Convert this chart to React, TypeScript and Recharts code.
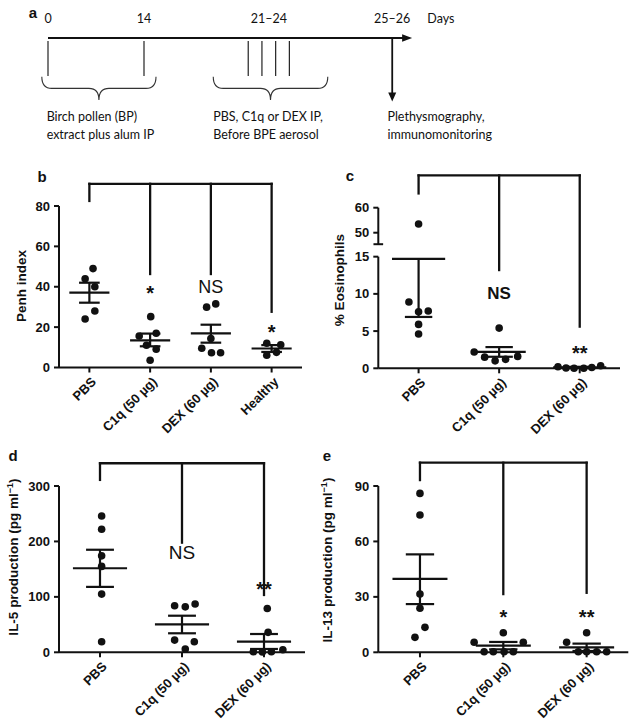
import React from 'react';
import {
  ScatterChart,
  Scatter,
  XAxis,
  YAxis,
  ReferenceLine,
  ReferenceDot,
  ReferenceArea,
} from 'recharts';

const FONT = "'Liberation Sans', Arial, Helvetica, sans-serif";
const TIMELINE_FONT = "Lato, 'Liberation Sans', Arial, sans-serif";
const INK = '#111111';

// ---- a: protocol timeline (schematic, not to scale)
const dayLabels = ['0', '14', '21–24', '25–26', 'Days'];
const dayLabelPos = [0, 14, 32.2, 50.2, 57.3];
const sensitizationPos = [0, 14];
const treatmentPos = [29.2, 31.2, 33.2, 35.2];
const readoutPos = 50.2;
const braceSpans = [
  [-0.9, 15.75],
  [24.1, 40.8],
];
const stepLines = [
  ['Birch pollen (BP)', 'extract plus alum IP'],
  ['PBS, C1q or DEX IP,', 'Before BPE aerosol'],
  ['Plethysmography,', 'immunomonitoring'],
];
const stepPos = [-0.2, 24.1, 49.5];

// ---- b: Penh index
const groupsB = ['PBS', 'C1q (50 µg)', 'DEX (60 µg)', 'Healthy'];
const penhValues = [
  [49, 44, 40, 28, 24],
  [25.2, 15.6, 17, 11, 9.1, 3.6],
  [29.9, 31.5, 14.4, 9.5, 7.3, 7.3],
  [12, 11.3, 6.1, 7.5],
];
const penhSpread = [
  [0.06, -0.07, 0.09, 0.09, -0.07],
  [0.01, -0.18, 0.1, -0.06, 0.1, 0],
  [-0.07, 0.08, 0, -0.15, 0.01, 0.16],
  [-0.08, 0.15, -0.08, 0.08],
];
const penhMean = [37.1, 13.4, 16.9, 9.4];
const penhSemHi = [42, 16.8, 21.2, 11.1];
const penhSemLo = [32.1, 10.5, 12.3, 7.7];
const penhTicks = [0, 20, 40, 60, 80];
const penhBracketTop = 91;
const penhBracketFeet = [82.5, 46.3, 46.3, 27.6];
const penhMarks = ['', '*', 'NS', '*'];
const penhMarkAt = [0, 39.4, 40, 20.2];

// ---- c: % eosinophils (broken axis 15 / 45)
const groupsC = ['PBS', 'C1q (50 µg)', 'DEX (60 µg)'];
const eosValues = [
  [53.5, 8.9, 7.6, 7.7, 5.9, 4.6],
  [5.4, 2.2, 1.5, 1.0, 1.2, 1.6],
  [0.2, 0.05, 0, 0, 0.1, 0.35],
];
const eosSpread = [
  [0, -0.12, 0, 0.12, 0, 0],
  [0, -0.31, -0.18, -0.05, 0.08, 0.23],
  [-0.27, -0.17, -0.07, 0.05, 0.15, 0.26],
];
const eosMean = [14.7, 2.2, 0.12];
const eosSemHi = [null, 2.85, 0.2];
const eosSemLo = [6.9, 1.55, 0.05];
const eosTicks = [0, 5, 10, 15, 50, 60];
const eosAxisParts = [
  [0, 15],
  [45.4, 60],
];
const eosBracketTop = 72.9;
const eosBracketFeet = [65.7, 13.2, 5.6];
const eosMarks = ['', 'NS', '**'];
const eosMarkAt = [0, 10.2, 2.7];

// lower segment 0-15 linear, upper segment compressed
function eosAxis(v: number) {
  return v <= 15 ? v : 18.22 + (v - 50) * 0.336;
}

// ---- d: IL-5
const il5Values = [
  [246, 222, 174, 155, 105, 19],
  [84, 82, 87, 22, 19, 6],
  [79, 36, 1, 0.5, 1, 4.5],
];
const il5Spread = [
  [0.02, 0.02, 0.02, 0.02, 0.02, 0.02],
  [-0.09, 0.04, 0.16, -0.09, 0.15, 0.04],
  [0.04, 0.05, -0.13, -0.02, 0.09, 0.23],
];
const il5Mean = [151.6, 50.5, 19.2];
const il5SemHi = [185, 66, 33];
const il5SemLo = [118, 34.3, 6];
const il5Ticks = [0, 100, 200, 300];
const il5BracketTop = 341;
const il5BracketFeet = [311, 197.8, 103.4];
const il5Marks = ['', 'NS', '**'];
const il5MarkAt = [0, 180.5, 123];

// ---- e: IL-13
const il13Values = [
  [86, 74.3, 31.5, 23.8, 13.5, 8.1],
  [10.6, 5.4, 5.4, 0.3, 0.3, 0.3, 0.3],
  [10.6, 5.4, 0.3, 0.3, 0.3, 0.3],
];
const il13Spread = [
  [0, 0, 0, 0, 0.06, -0.06],
  [0, -0.35, 0.24, -0.23, -0.12, 0.01, 0.12],
  [0, -0.24, -0.1, 0, 0.12, 0.24],
];
const il13Mean = [39.7, 3.6, 2.7];
const il13SemHi = [53, 5.6, 4.7];
const il13SemLo = [26.1, 1.6, 0.7];
const il13Ticks = [0, 30, 60, 90];
const il13BracketTop = 102.6;
const il13BracketFeet = [93.2, 31.5, 32.2];
const il13Marks = ['', '*', '**'];
const il13MarkAt = [0, 21.6, 21.6];

const MEAN_HALF = 0.33;
const CAP_HALF = 0.17;

// timeline rows (y units, 0 at top)
const ROW = {
  label: 1.9,
  axis: 3.8,
  tickTop: 4.1,
  tickBottom: 7.6,
  braceTop: 7.67,
  braceBottom: 10,
  text: 11.67,
  downEnd: 9.5,
  downTip: 10.15,
  axisEnd: 51.8,
  axisTip: 53.1,
};

function Brace(props: any) {
  const { x, y, width, height } = props;
  const mid = y + height * 0.5;
  const cx = x + width / 2;
  const r = Math.min(10, width / 6);
  const d =
    `M${x},${y} Q${x},${mid} ${x + r},${mid} L${cx - r},${mid} ` +
    `Q${cx},${mid} ${cx},${y + height} Q${cx},${mid} ${cx + r},${mid} ` +
    `L${x + width - r},${mid} Q${x + width},${mid} ${x + width},${y}`;
  return <path d={d} fill="none" stroke="#333" strokeWidth={1.1} />;
}

function TimelinePanel() {
  const dayMarks = dayLabels.map((label, i) => ({ x: dayLabelPos[i], y: ROW.label, label }));
  const ticks = [...sensitizationPos, ...treatmentPos];
  return (
    <div style={{ position: 'absolute', left: 0, top: 0 }}>
      <ScatterChart width={630} height={160} margin={{ top: 0, right: 6, bottom: 0, left: 48 }}>
        <XAxis type="number" dataKey="x" domain={[0, 84]} hide />
        <YAxis type="number" dataKey="y" domain={[0, 16]} reversed hide />
        <Scatter
          data={dayMarks}
          isAnimationActive={false}
          shape={(p: any) => (
            <text
              x={p.cx}
              y={p.cy}
              dy="0.35em"
              textAnchor="middle"
              fontFamily={TIMELINE_FONT}
              fontSize={12.5}
              fill={INK}
            >
              {p.payload.label}
            </text>
          )}
        />
        <ReferenceLine
          segment={[{ x: 0, y: ROW.axis }, { x: ROW.axisEnd, y: ROW.axis }]}
          stroke={INK}
          strokeWidth={2}
          ifOverflow="visible"
        />
        <ReferenceDot
          x={ROW.axisTip}
          y={ROW.axis}
          ifOverflow="visible"
          shape={(p: any) => (
            <polygon
              points={`${p.cx},${p.cy} ${p.cx - 10},${p.cy - 3.8} ${p.cx - 10},${p.cy + 3.8}`}
              fill={INK}
            />
          )}
        />
        {ticks.map((x) => (
          <ReferenceLine
            key={x}
            segment={[{ x, y: ROW.tickTop }, { x, y: ROW.tickBottom }]}
            stroke="#222"
            strokeWidth={1.2}
            ifOverflow="visible"
          />
        ))}
        {braceSpans.map(([x1, x2]) => (
          <ReferenceArea
            key={x1}
            x1={x1}
            x2={x2}
            y1={ROW.braceTop}
            y2={ROW.braceBottom}
            ifOverflow="visible"
            shape={Brace}
          />
        ))}
        <ReferenceLine
          segment={[{ x: readoutPos, y: ROW.axis }, { x: readoutPos, y: ROW.downEnd }]}
          stroke={INK}
          strokeWidth={1.8}
          ifOverflow="visible"
        />
        <ReferenceDot
          x={readoutPos}
          y={ROW.downTip}
          ifOverflow="visible"
          shape={(p: any) => (
            <polygon
              points={`${p.cx},${p.cy} ${p.cx - 4},${p.cy - 9} ${p.cx + 4},${p.cy - 9}`}
              fill={INK}
            />
          )}
        />
        {stepLines.map((lines, i) => (
          <ReferenceDot
            key={i}
            x={stepPos[i]}
            y={ROW.text}
            ifOverflow="visible"
            shape={(p: any) => (
              <text x={p.cx} y={p.cy} fontFamily={TIMELINE_FONT} fontSize={12.5} fill={INK}>
                <tspan x={p.cx} dy="0.35em">
                  {lines[0]}
                </tspan>
                <tspan x={p.cx} dy="1.4em">
                  {lines[1]}
                </tspan>
              </text>
            )}
          />
        ))}
      </ScatterChart>
    </div>
  );
}

function SlantTick(props: any) {
  const { x, y, payload, labels } = props;
  return (
    <g transform={`translate(${x + 1},${y + 1.5})`}>
      <text
        textAnchor="end"
        transform="rotate(-45)"
        dy="0.72em"
        fill={INK}
        fontSize={13}
        fontWeight="bold"
        fontFamily={FONT}
      >
        {labels[payload.value]}
      </text>
    </g>
  );
}

interface MarkFont {
  ns: number;
  nsWeight: string;
  star: number;
}

interface DotPanelProps {
  left: number;
  top: number;
  margin: { top: number; right: number; bottom: number; left: number };
  yWidth: number;
  groups: string[];
  values: number[][];
  spread: number[][];
  mean: number[];
  semHi: (number | null)[];
  semLo: number[];
  domain: [number, number];
  ticks: number[];
  toAxis?: (v: number) => number;
  axisParts?: number[][];
  bracketTop: number;
  bracketFeet: number[];
  marks: string[];
  markAt: number[];
  markFont: MarkFont;
}

function DotPanel(props: DotPanelProps) {
  const {
    left,
    top,
    margin,
    yWidth,
    groups,
    values,
    spread,
    mean,
    semHi,
    semLo,
    domain,
    ticks,
    axisParts,
    bracketTop,
    bracketFeet,
    marks,
    markAt,
    markFont,
  } = props;
  const toAxis = props.toAxis ?? ((v: number) => v);
  const n = groups.length;

  const points = values.flatMap((col, i) =>
    col.map((v, j) => ({ x: i + spread[i][j], y: toAxis(v) })),
  );

  const segs: number[][] = [];
  mean.forEach((m, i) => {
    const lo = semLo[i];
    const hi = semHi[i];
    segs.push([i - MEAN_HALF, m, i + MEAN_HALF, m]);
    segs.push([i, lo, i, hi ?? m]);
    segs.push([i - CAP_HALF, lo, i + CAP_HALF, lo]);
    if (hi != null) segs.push([i - CAP_HALF, hi, i + CAP_HALF, hi]);
  });

  const bracket: number[][] = [[0, bracketTop, n - 1, bracketTop]];
  bracketFeet.forEach((f, i) => bracket.push([i, f, i, bracketTop]));

  const axisTicks = ticks.map(toAxis);
  const fmt = (v: number) => {
    const k = axisTicks.findIndex((t) => Math.abs(t - v) < 1e-6);
    return k >= 0 ? String(ticks[k]) : '';
  };

  const axisStroke = { stroke: INK, strokeWidth: 2 };

  return (
    <div style={{ position: 'absolute', left, top }}>
      <ScatterChart width={315} height={280} margin={margin}>
        <XAxis
          type="number"
          dataKey="x"
          domain={[-0.5, n - 0.5]}
          ticks={groups.map((_, i) => i)}
          interval={0}
          height={60}
          tickSize={5}
          axisLine={axisStroke}
          tickLine={axisStroke}
          tick={(p: any) => <SlantTick {...p} labels={groups} />}
        />
        <YAxis
          type="number"
          dataKey="y"
          domain={[toAxis(domain[0]), toAxis(domain[1])]}
          ticks={axisTicks}
          interval={0}
          width={yWidth}
          tickSize={5}
          tickMargin={4}
          tickFormatter={fmt}
          axisLine={axisParts ? false : axisStroke}
          tickLine={axisStroke}
          tick={{ fill: INK, fontSize: 13, fontWeight: 700, fontFamily: FONT }}
        />
        {axisParts &&
          axisParts.map(([a, b]) => (
            <ReferenceLine
              key={a}
              segment={[{ x: -0.5, y: toAxis(a) }, { x: -0.5, y: toAxis(b) }]}
              stroke={INK}
              strokeWidth={2}
              ifOverflow="visible"
            />
          ))}
        {axisParts && (
          <ReferenceLine
            segment={[
              { x: -0.56, y: toAxis(axisParts[1][0]) },
              { x: -0.44, y: toAxis(axisParts[1][0]) },
            ]}
            stroke={INK}
            strokeWidth={2}
            ifOverflow="visible"
          />
        )}
        <Scatter
          data={points}
          isAnimationActive={false}
          shape={(p: any) => <circle cx={p.cx} cy={p.cy} r={3.8} fill={INK} />}
        />
        {segs.map(([x1, y1, x2, y2], k) => (
          <ReferenceLine
            key={`s${k}`}
            segment={[{ x: x1, y: toAxis(y1) }, { x: x2, y: toAxis(y2) }]}
            stroke={INK}
            strokeWidth={2.2}
            ifOverflow="visible"
          />
        ))}
        {bracket.map(([x1, y1, x2, y2], k) => (
          <ReferenceLine
            key={`b${k}`}
            segment={[{ x: x1, y: toAxis(y1) }, { x: x2, y: toAxis(y2) }]}
            stroke={INK}
            strokeWidth={2.3}
            strokeLinecap="square"
            ifOverflow="visible"
          />
        ))}
        {marks.map((m, i) =>
          m ? (
            <ReferenceDot
              key={`m${i}`}
              x={i}
              y={toAxis(markAt[i])}
              ifOverflow="visible"
              shape={(p: any) => {
                const star = m.startsWith('*');
                return (
                  <text
                    x={p.cx}
                    y={p.cy}
                    dy={star ? '0.6em' : '0.36em'}
                    textAnchor="middle"
                    fontFamily={FONT}
                    fontSize={star ? markFont.star : markFont.ns}
                    fontWeight={star ? 700 : markFont.nsWeight}
                    fill={INK}
                  >
                    {m}
                  </text>
                );
              }}
            />
          ) : null,
        )}
      </ScatterChart>
    </div>
  );
}

const letterStyle: React.CSSProperties = {
  position: 'absolute',
  transform: 'translate(-50%, -50%)',
  fontWeight: 'bold',
  fontSize: 15,
  lineHeight: 1,
};

const yLabelStyle: React.CSSProperties = {
  position: 'absolute',
  transform: 'translate(-50%, -50%) rotate(-90deg)',
  whiteSpace: 'nowrap',
  fontWeight: 'bold',
  fontSize: 13.5,
  lineHeight: 1,
};

const supStyle: React.CSSProperties = { fontSize: 9, verticalAlign: 'super', lineHeight: 0 };

export default function App() {
  return (
    <div
      style={{
        position: 'absolute',
        left: 0,
        top: 0,
        width: 630,
        height: 720,
        background: '#fff',
        color: INK,
        fontFamily: FONT,
        overflow: 'hidden',
      }}
    >
      <TimelinePanel />
      <DotPanel
        left={0}
        top={160}
        margin={{ top: 46, right: 13, bottom: 12.5, left: 0 }}
        yWidth={59}
        groups={groupsB}
        values={penhValues}
        spread={penhSpread}
        mean={penhMean}
        semHi={penhSemHi}
        semLo={penhSemLo}
        domain={[0, 80]}
        ticks={penhTicks}
        bracketTop={penhBracketTop}
        bracketFeet={penhBracketFeet}
        marks={penhMarks}
        markAt={penhMarkAt}
        markFont={{ ns: 18, nsWeight: 'normal', star: 20 }}
      />
      <DotPanel
        left={315}
        top={160}
        margin={{ top: 47.7, right: 10, bottom: 11.7, left: 0 }}
        yWidth={63.3}
        groups={groupsC}
        values={eosValues}
        spread={eosSpread}
        mean={eosMean}
        semHi={eosSemHi}
        semLo={eosSemLo}
        domain={[0, 60]}
        ticks={eosTicks}
        toAxis={eosAxis}
        axisParts={eosAxisParts}
        bracketTop={eosBracketTop}
        bracketFeet={eosBracketFeet}
        marks={eosMarks}
        markAt={eosMarkAt}
        markFont={{ ns: 17, nsWeight: 'bold', star: 20 }}
      />
      <DotPanel
        left={0}
        top={440}
        margin={{ top: 46, right: 10, bottom: 7.7, left: 0 }}
        yWidth={59}
        groups={groupsC}
        values={il5Values}
        spread={il5Spread}
        mean={il5Mean}
        semHi={il5SemHi}
        semLo={il5SemLo}
        domain={[0, 300]}
        ticks={il5Ticks}
        bracketTop={il5BracketTop}
        bracketFeet={il5BracketFeet}
        marks={il5Marks}
        markAt={il5MarkAt}
        markFont={{ ns: 19, nsWeight: 'normal', star: 20 }}
      />
      <DotPanel
        left={315}
        top={440}
        margin={{ top: 46, right: 1.7, bottom: 7.7, left: 0 }}
        yWidth={63.3}
        groups={groupsC}
        values={il13Values}
        spread={il13Spread}
        mean={il13Mean}
        semHi={il13SemHi}
        semLo={il13SemLo}
        domain={[0, 90]}
        ticks={il13Ticks}
        bracketTop={il13BracketTop}
        bracketFeet={il13BracketFeet}
        marks={il13Marks}
        markAt={il13MarkAt}
        markFont={{ ns: 19, nsWeight: 'normal', star: 20 }}
      />

      <div style={{ ...letterStyle, left: 33, top: 12 }}>a</div>
      <div style={{ ...letterStyle, left: 42, top: 176 }}>b</div>
      <div style={{ ...letterStyle, left: 350, top: 175 }}>c</div>
      <div style={{ ...letterStyle, left: 13, top: 455 }}>d</div>
      <div style={{ ...letterStyle, left: 327, top: 455 }}>e</div>

      <div style={{ ...yLabelStyle, left: 22, top: 286 }}>Penh index</div>
      <div style={{ ...yLabelStyle, left: 340, top: 280 }}>% Eosinophils</div>
      <div style={{ ...yLabelStyle, left: 14, top: 557 }}>
        IL-5 production (pg ml<span style={supStyle}>−1</span>)
      </div>
      <div style={{ ...yLabelStyle, left: 328, top: 560 }}>
        IL-13 production (pg ml<span style={supStyle}>−1</span>)
      </div>
    </div>
  );
}
